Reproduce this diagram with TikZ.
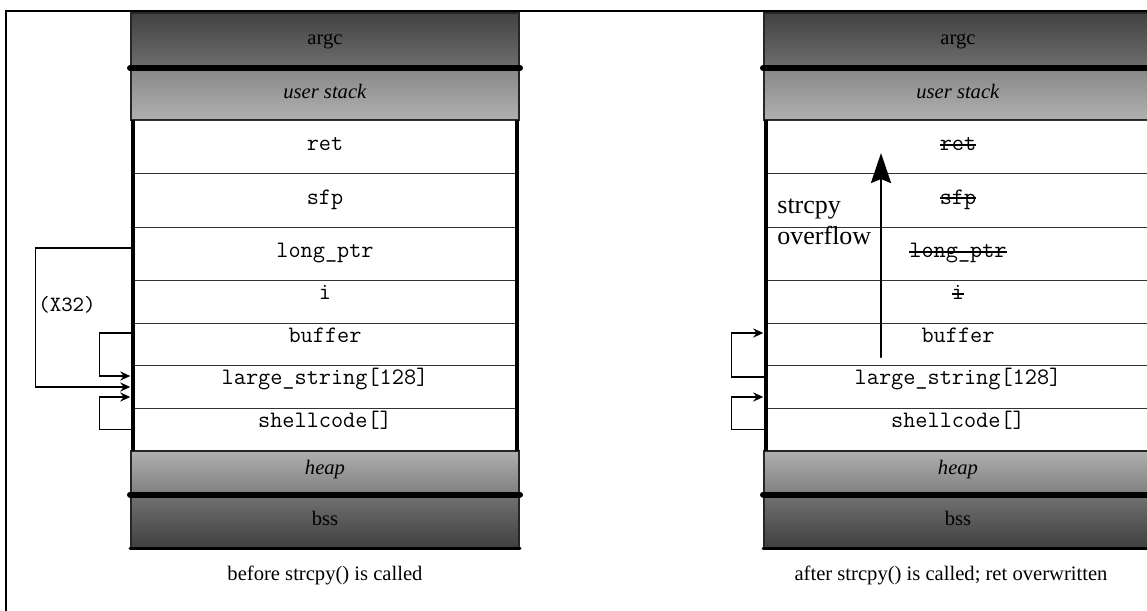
\documentclass[tikz,border=0pt]{standalone}
\usepackage{fontspec}
\setmainfont{Liberation Serif}
\usetikzlibrary{arrows.meta}
\newcommand{\strk}[1]{\setbox0\hbox{#1}\rlap{#1}\rule[0.5ex]{\wd0}{0.8pt}}

\begin{document}
\begin{tikzpicture}[x=0.5pt,y=-0.5pt]
	\tikzstyle{every node}+=[inner sep=0pt]
	\tikzstyle{band}=[draw=black!85, line width=1pt, minimum width=194pt, text height=7pt, text depth=2.5pt, font=\fontsize{10.3}{12}\selectfont]
	\tikzstyle{topband}=[band, minimum height=27pt, top color=black!74, bottom color=black!57]
	\tikzstyle{stackband}=[band, minimum height=26.5pt, top color=black!47, bottom color=black!31]
	\tikzstyle{heapband}=[band, minimum height=21.5pt, top color=black!31, bottom color=black!50, text depth=5pt]
	\tikzstyle{bssband}=[band, minimum height=27pt, top color=black!55, bottom color=black!75]
	\tikzstyle{cell}=[draw=black!80, line width=0.7pt, minimum width=191pt, text height=7pt, font=\fontsize{11.8}{13}\selectfont\ttfamily]
	\tikzstyle{tall}=[cell, minimum height=26.75pt, text depth=3.4pt]
	\tikzstyle{short}=[cell, minimum height=21.25pt, text depth=9.2pt]
	\tikzstyle{wall}=[line width=2pt]
	\tikzstyle{split}=[line width=3pt, line cap=round]
	\tikzstyle{ptrarrow}=[line width=0.75pt, -{Stealth[length=5pt,width=4.5pt]}, shorten >=1.5pt]
	\tikzstyle{caption}=[font=\fontsize{10.3}{12}\selectfont]
	\useasboundingbox (0,0) rectangle (1147,611);
	\clip (0,0) rectangle (1147,611);
	% frame
	\draw [line width=1pt] (1160,11) -- (6,11) -- (6,620);
	% before
	\node [topband] (argcA) at (325,40) {argc};
	\node [stackband] (ustackA) at (325,93.5) {\textit{user stack}};
	\node [tall] (retA) at (325,147) {ret};
	\node [tall] (sfpA) at (325,200.5) {sfp};
	\node [tall] (lptrA) at (325,254) {long\_ptr};
	\node [short] (iA) at (325,302) {i};
	\node [short] (bufA) at (325,344.5) {buffer};
	\node [short] (largeA) at (325,387) {large\_string[128]};
	\node [short] (shellA) at (325,429.5) {shellcode[]};
	\node [heapband] (heapA) at (325,472) {\textit{heap}};
	\node [bssband] (bssA) at (325,520.5) {bss};
	\draw [wall] (retA.north west) -- (shellA.south west);
	\draw [wall] (retA.north east) -- (shellA.south east);
	\draw [split] (argcA.south west) -- (argcA.south east);
	\draw [split] (heapA.south west) -- (heapA.south east);
	\draw [line width=1.5pt, line cap=round] (bssA.south west) -- (bssA.south east);
	\draw [ptrarrow] ([yshift=3pt]lptrA.west) -- ++(-98,0) |- (largeA.west);
	\draw [ptrarrow] ([yshift=5.75pt]bufA.west) -- ++(-34,0) |- ([yshift=5.5pt]largeA.west);
	\draw [ptrarrow] (shellA.west) -- ++(-34,0) |- ([yshift=-5pt]largeA.west);
	\node [font=\fontsize{10.9}{12}\selectfont\ttfamily, anchor=west] (timesA) at (38,305) {(X32)};
	\node [caption] (capA) at (325,575) {before strcpy() is called};
	% after
	\node [topband] (argcB) at (958,40) {argc};
	\node [stackband] (ustackB) at (958,93.5) {\textit{user stack}};
	\node [tall] (retB) at (958,147) {\strk{ret}};
	\node [tall] (sfpB) at (958,200.5) {\strk{sfp}};
	\node [tall] (lptrB) at (958,254) {\strk{long\_ptr}};
	\node [short] (iB) at (958,302) {\strk{i}};
	\node [short] (bufB) at (958,344.5) {buffer};
	\node [short] (largeB) at (958,387) {large\_string[128]};
	\node [short] (shellB) at (958,429.5) {shellcode[]};
	\node [heapband] (heapB) at (958,472) {\textit{heap}};
	\node [bssband] (bssB) at (958,520.5) {bss};
	\draw [wall] (retB.north west) -- (shellB.south west);
	\draw [wall] (retB.north east) -- (shellB.south east);
	\draw [split] (argcB.south west) -- (argcB.south east);
	\draw [split] (heapB.south west) -- (heapB.south east);
	\draw [line width=1.5pt, line cap=round] (bssB.south west) -- (bssB.south east);
	\draw [ptrarrow] ([yshift=5pt]largeB.west) -- ++(-35,0) |- ([yshift=5.75pt]bufB.west);
	\draw [ptrarrow] (shellB.west) -- ++(-35,0) |- ([yshift=-5pt]largeB.west);
	\coordinate (ovfTail) at (881,357);
	\coordinate (ovfHead) at (881,153);
	\draw [line width=1.3pt, line cap=round, -{Stealth[length=15pt,width=10pt,inset=2pt]}] (ovfTail) -- (ovfHead);
	\node [font=\fontsize{13}{15.5}\selectfont, align=left, anchor=north west] (ovfText) at (777,198) {strcpy\\overflow};
	\node [caption] (capB) at (951,575) {after strcpy() is called; ret overwritten};
\end{tikzpicture}
\end{document}
